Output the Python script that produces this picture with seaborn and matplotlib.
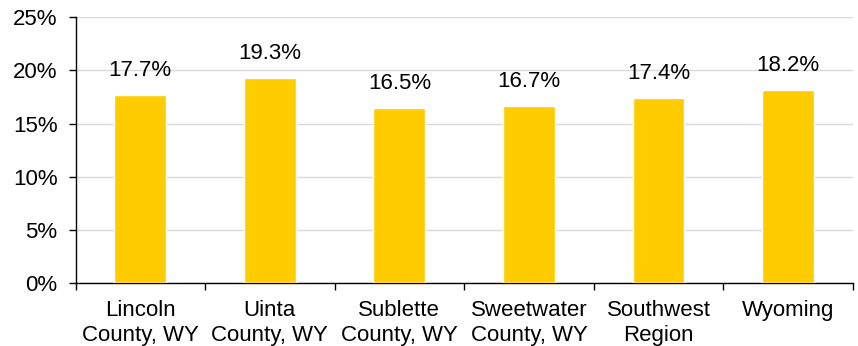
import matplotlib
matplotlib.use("Agg")
import matplotlib.pyplot as plt
import seaborn as sns
import pandas as pd
from matplotlib.ticker import FixedLocator, PercentFormatter

regions = ["Lincoln\nCounty, WY", "Uinta\nCounty, WY", "Sublette\nCounty, WY",
           "Sweetwater\nCounty, WY", "Southwest\nRegion", "Wyoming"]
shares = [17.7, 19.3, 16.5, 16.7, 17.4, 18.2]
y_ticks = [0, 5, 10, 15, 20, 25]

sns.set_theme(style="white")
plt.rcParams["font.family"] = ["Liberation Sans", "DejaVu Sans"]

df = pd.DataFrame({"region": regions, "share": shares})

fig, ax = plt.subplots(figsize=(8.58, 3.46), dpi=100)
fig.subplots_adjust(left=0.088, right=0.994, top=0.95, bottom=0.182)

sns.barplot(data=df, x="region", y="share", color="#FFCC00", saturation=1,
            width=0.4, ax=ax, zorder=3)

for i, v in enumerate(shares):
    ax.annotate(f"{v:.1f}%", (i, v), xytext=(0, 10), textcoords="offset points",
                ha="center", va="bottom", fontsize=16, color="black")

ax.set_ylim(0, 25)
ax.set_xlim(-0.5, len(regions) - 0.5)
ax.yaxis.set_major_locator(FixedLocator(y_ticks))
ax.yaxis.set_major_formatter(PercentFormatter(decimals=0))
ax.grid(axis="y", color="#d9d9d9", linewidth=1, zorder=0)
ax.set_axisbelow(True)

ax.set_xlabel("")
ax.set_ylabel("")
for side in ["top", "right"]:
    ax.spines[side].set_visible(False)
for side in ["left", "bottom"]:
    ax.spines[side].set_color("black")
    ax.spines[side].set_linewidth(1)

ax.tick_params(axis="y", which="major", left=True, length=5, width=1,
               color="black", labelsize=16, labelcolor="black", pad=8)
ax.tick_params(axis="x", which="major", length=0, labelsize=16,
               labelcolor="black", pad=12)
for lbl in ax.get_xticklabels():
    lbl.set_linespacing(1.25)
ax.xaxis.set_minor_locator(FixedLocator([i - 0.5 for i in range(len(regions) + 1)]))
ax.tick_params(axis="x", which="minor", bottom=True, length=5, width=1, color="black")

fig.savefig("out.png", dpi=100)
